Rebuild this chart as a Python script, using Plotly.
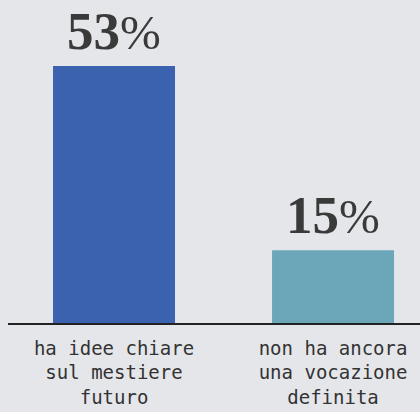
import plotly.graph_objects as go

categories = ["ha idee chiare<br>sul mestiere<br>futuro", "non ha ancora<br>una vocazione<br>definita"]
values = [53, 15]
colors = ["#3b62ae", "#6ba7b8"]

xpos = list(range(len(categories)))

fig = go.Figure()
fig.add_trace(go.Bar(
    x=xpos, y=values, width=0.557,
    marker=dict(color=colors, line=dict(width=0)),
    hoverinfo="skip",
))

for x, v in zip(xpos, values):
    fig.add_annotation(
        x=x, y=v, xref="x", yref="y",
        text=f"<b>{v}</b><span style='font-weight:300;font-size:49px'>%</span>",
        showarrow=False, yanchor="bottom", yshift=4,
        font=dict(family="Liberation Serif", size=53, color="#3a3a3a"),
    )

fig.update_layout(
    width=420, height=412,
    margin=dict(l=8, r=0, t=0, b=89, autoexpand=False),
    paper_bgcolor="#e5e6ea", plot_bgcolor="#e5e6ea",
    showlegend=False,
    xaxis=dict(
        range=[-0.484, 1.397],
        tickmode="array", tickvals=xpos, ticktext=categories,
        showline=True, linecolor="#222222", linewidth=1.5,
        showgrid=False, zeroline=False, ticks="",
        automargin=False,
        ticklabelstandoff=7,
        tickfont=dict(family="DejaVu Sans Mono", size=19, color="#333333"),
    ),
    yaxis=dict(range=[0, 66.6], visible=False, showgrid=False, zeroline=False,
               automargin=False),
)

fig.write_html("out.html")
